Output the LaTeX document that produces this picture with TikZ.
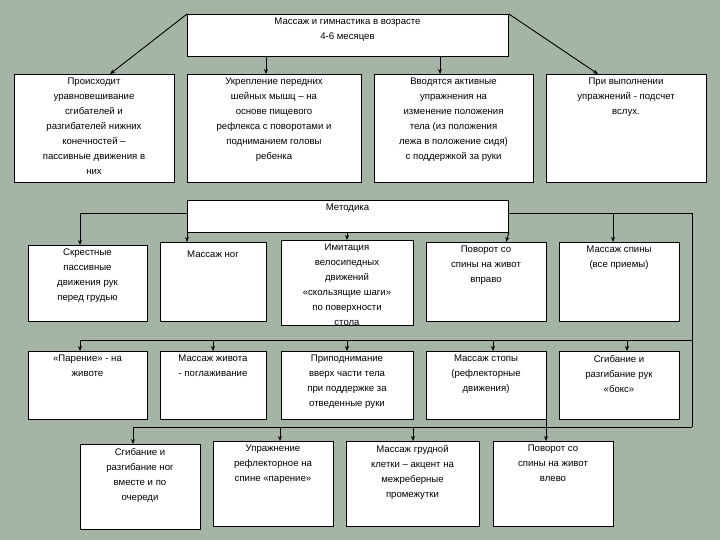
\documentclass[tikz,border=0pt]{standalone}
\usepackage{fontspec}
\setmainfont{Liberation Sans}
\usetikzlibrary{arrows.meta}
\begin{document}
\begin{tikzpicture}[x=1pt,y=-1pt,
 box/.style={draw=black,line width=0.9pt,fill=white,anchor=north west,inner sep=0pt},
 txt/.style={anchor=north,align=center,font=\fontsize{9.6}{15}\selectfont,inner sep=1pt},
 arr/.style={line width=0.9pt,-{Stealth[length=5pt,width=4pt]}},
 ln/.style={line width=0.9pt}]
\useasboundingbox (0,0) rectangle (720,540);
\fill[color={rgb,255:red,164;green,181;blue,165}] (0,0) rectangle (720,540);
\def\bx#1#2#3#4#5#6{\node[box,minimum width=#4pt,minimum height=#5pt] (#1) at (#2,#3) {};
 \pgfmathsetmacro\cx{#2+#4/2}
 \node[txt] (#1t) at (\cx,#3+3) {#6};}
\bx{top}{187}{14}{321}{42}{Массаж и гимнастика в возрасте\\4-6 месяцев}
\bx{a1}{14}{74}{160}{108}{Происходит\\уравновешивание\\сгибателей и\\разгибателей нижних\\конечностей –\\пассивные движения в\\них}
\bx{a2}{187}{74}{174}{108}{Укрепление передних\\шейных мышц – на\\основе пищевого\\рефлекса с поворотами и\\подниманием головы\\ребенка}
\bx{a3}{374}{74}{159}{108}{Вводятся активные\\упражнения на\\изменение положения\\тела (из положения\\лежа в положение сидя)\\с поддержкой за руки}
\bx{a4}{546}{74}{160}{108}{При выполнении\\упражнений - подсчет\\вслух.}
\bx{met}{187}{200}{321}{32}{Методика}
\bx{b1}{28}{245}{119}{76}{Скрестные\\пассивные\\движения рук\\перед грудью}
\bx{b2}{160}{242}{106}{79}{\\[-4pt]Массаж ног}
\bx{b3}{281}{240}{132}{85}{Имитация\\велосипедных\\движений\\«скользящие шаги»\\по поверхности\\стола}
\bx{b4}{426}{242}{120}{79}{Поворот со\\спины на живот\\вправо}
\bx{b5}{559}{242}{120}{79}{Массаж спины\\(все приемы)}
\bx{c1}{28}{351}{119}{68}{«Парение» - на\\животе}
\bx{c2}{160}{351}{106}{68}{Массаж живота\\- поглаживание}
\bx{c3}{281}{351}{132}{68}{Приподнимание\\вверх части тела\\при поддержке за\\отведенные руки}
\bx{c4}{426}{351}{120}{68}{Массаж стопы\\(рефлекторные\\движения)}
\bx{c5}{559}{351}{120}{68}{Сгибание и\\разгибание рук\\«бокс»}
\bx{d1}{80}{444}{120}{85}{Сгибание и\\разгибание ног\\вместе и по\\очереди}
\bx{d2}{213}{441}{120}{85}{Упражнение\\рефлекторное на\\спине «парение»}
\bx{d3}{346}{441}{133}{85}{Массаж грудной\\клетки – акцент на\\межреберные\\промежутки}
\bx{d4}{493}{441}{120}{85}{Поворот со\\спины на живот\\влево}
\draw[arr] (top.north west) -- (110,74);
\draw[arr] (top.north east) -- (598,74);
\draw[arr] (266,56) -- (266,74);
\draw[arr] (440,56) -- (440,74);
\coordinate (ml) at (80,213); \coordinate (mr) at (692,213);
\draw[ln] (met.west |- ml) -- (ml); \draw[arr] (ml) -- (80,245);
\draw[arr] (met.south west) -- (187,242);
\draw[arr] (347,232) -- (347,240);
\draw[arr] (met.south east) -- (506,242);
\draw[ln] (met.east |- mr) -- (mr) -- (692,427);
\draw[arr] (613,213) -- (613,242);
\draw[ln] (80,340) -- (692,340);
\draw[arr] (80,340) -- (80,351);
\draw[arr] (213,340) -- (213,351);
\draw[arr] (347,340) -- (347,351);
\draw[arr] (493,340) -- (493,351);
\draw[arr] (627,340) -- (627,351);
\draw[ln] (133,427) -- (692,427);
\draw[arr] (133,427) -- (133,444);
\draw[arr] (280,427) -- (280,441);
\draw[arr] (413,427) -- (413,441);
\draw[arr] (546,419) -- (546,441);
\end{tikzpicture}
\end{document}
